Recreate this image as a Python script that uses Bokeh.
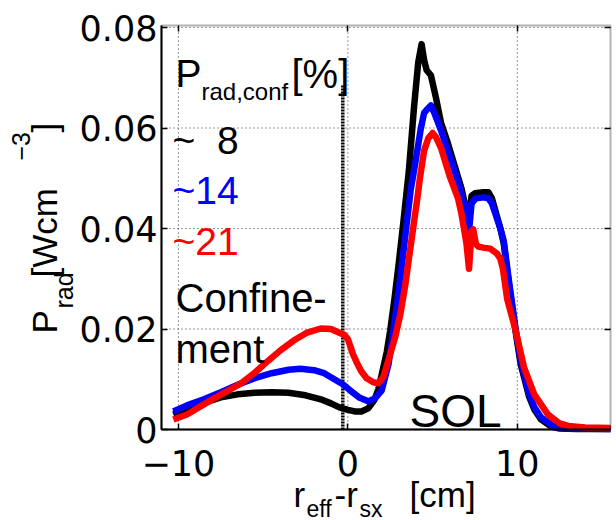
import numpy as np
from bokeh.plotting import figure
from bokeh.models import (Label, Range1d, FixedTicker, CustomJSTickFormatter, BoxAnnotation,
                          LinearAxis)
from bokeh.embed import file_html
from bokeh.resources import INLINE

# ---------------- data ----------------
x_black = [-10.3, -9.5, -8.5, -7.5, -6.5, -5.5, -4.5, -3.5, -2.5, -1.6, -1.0, -0.5, 0.0, 0.4, 0.8,
           1.2, 1.55, 1.8, 2.05, 2.3, 2.5, 2.75, 3.0, 3.3, 3.6, 3.9, 4.15, 4.35, 4.5, 4.65, 4.9,
           5.2, 5.5, 5.9, 6.3, 6.7, 7.0, 7.15, 7.3, 7.5, 8.0, 8.3, 8.5, 8.7, 9.0, 9.2, 9.5, 9.9,
           10.2, 10.7, 11.0, 11.4, 12.0, 12.5, 13.5, 15.5]
y_black = [0.0030, 0.0040, 0.0053, 0.0064, 0.0070, 0.0073, 0.0074, 0.0073, 0.0068, 0.0060, 0.0052,
           0.0044, 0.0039, 0.0036, 0.0036, 0.0042, 0.0058, 0.0080, 0.0117, 0.0155, 0.0197, 0.0260,
           0.0330, 0.0420, 0.0515, 0.0640, 0.0730, 0.0767, 0.0735, 0.0715, 0.0705, 0.0660, 0.0610,
           0.0570, 0.0525, 0.0480, 0.0435, 0.0415, 0.0465, 0.0470, 0.0472, 0.0472, 0.0460, 0.0436,
           0.0400, 0.0370, 0.0290, 0.0195, 0.0130, 0.0065, 0.0040, 0.0020, 0.0006, 0.0002, 0.0001,
           0.0001]

x_blue = [-10.3, -9.5, -8.5, -7.5, -6.5, -5.5, -4.5, -3.5, -2.8, -2.0, -1.4, -0.8, -0.3, 0.2, 0.7,
          1.2, 1.6, 2.0, 2.4, 2.7, 3.0, 3.3, 3.7, 4.0, 4.3, 4.5, 4.7, 4.9, 5.1, 5.5, 5.9, 6.3, 6.7,
          7.0, 7.15, 7.3, 7.55, 8.0, 8.3, 8.5, 8.7, 9.0, 9.2, 9.5, 9.9, 10.2, 10.7, 11.0, 11.4,
          12.2, 13.0, 15.5]
y_blue = [0.0036, 0.0048, 0.0060, 0.0074, 0.0089, 0.0102, 0.0112, 0.0119, 0.0121, 0.0118, 0.0112,
          0.0100, 0.0090, 0.0076, 0.0063, 0.0056, 0.0062, 0.0078, 0.0130, 0.0200, 0.0275, 0.0360,
          0.0475, 0.0535, 0.0598, 0.0630, 0.0638, 0.0645, 0.0630, 0.0595, 0.0555, 0.0515, 0.0470,
          0.0430, 0.0395, 0.0450, 0.0460, 0.0462, 0.0460, 0.0450, 0.0430, 0.0400, 0.0375, 0.0297,
          0.0200, 0.0137, 0.0070, 0.0045, 0.0024, 0.0005, 0.0002, 0.0001]

x_red = [-10.3, -9.5, -8.5, -8.1, -7.2, -6.3, -5.5, -4.7, -4.0, -3.2, -2.4, -1.6, -1.0, -0.6, -0.2,
         0.0, 0.15, 0.3, 0.5, 0.77, 1.1, 1.5, 1.8, 2.1, 2.5, 2.8, 3.1, 3.4, 3.6, 3.85, 4.1, 4.25,
         4.5, 4.75, 5.0, 5.2, 5.5, 6.0, 6.5, 6.7, 7.0, 7.15, 7.3, 7.4, 7.55, 7.7, 8.0, 8.4, 8.8,
         9.0, 9.15, 9.4, 9.9, 10.4, 11.0, 11.8, 12.5, 13.0, 14.0, 15.5]
y_red = [0.0020, 0.0030, 0.0050, 0.0058, 0.0075, 0.0092, 0.0113, 0.0137, 0.0157, 0.0177, 0.0193,
         0.0201, 0.0200, 0.0194, 0.0188, 0.0180, 0.0165, 0.0150, 0.0135, 0.0117, 0.0102, 0.0094,
         0.0092, 0.0105, 0.0150, 0.0185, 0.0230, 0.0290, 0.0340, 0.0400, 0.0460, 0.0500, 0.0555,
         0.0580, 0.0590, 0.0582, 0.0560, 0.0505, 0.0460, 0.0430, 0.0370, 0.0320, 0.0395, 0.0398,
         0.0370, 0.0364, 0.0362, 0.0360, 0.0350, 0.0340, 0.0320, 0.0260, 0.0197, 0.0123, 0.0070,
         0.0030, 0.0012, 0.0007, 0.0004, 0.0003]

series_colors = ["#000000", "#0000ff", "#ff0000"]
series_labels = ["~\u00a0\u00a08", "~14", "~21"]

x_ticks = [-10, 0, 10]
y_ticks = [0, 0.02, 0.04, 0.06, 0.08]

separatrix_x = -0.3
separatrix_top = 0.0685

# ---------------- layout ----------------
W, H = 616, 520
FL, FR, FT, FB = 161, 610, 25, 429      # pixel box of the axes
X0, X1 = -11.0, 15.5                    # axes limits
Y0, Y1 = 0.0, 0.0804


def dx(px):
    return X0 + (px - FL) * (X1 - X0) / (FR - FL)


def dy(py):
    return Y0 + (FB - py) * (Y1 - Y0) / (FB - FT)


# the drawing frame covers the whole canvas; the axes sit at fixed locations
p = figure(width=W, height=H, x_range=Range1d(dx(0), dx(W)), y_range=Range1d(dy(H), dy(0)),
           output_backend="svg", toolbar_location=None, min_border=0,
           min_border_left=0, min_border_right=0, min_border_top=0, min_border_bottom=0)
p.background_fill_color = "white"
p.border_fill_color = "white"
p.outline_line_color = None
p.xgrid.visible = False
p.ygrid.visible = False

xa, ya = p.xaxis[0], p.yaxis[0]
xa.fixed_location = Y0
ya.fixed_location = X0
xa.bounds = (X0, X1)
ya.bounds = (Y0, Y1)
xa.ticker = FixedTicker(ticks=x_ticks)
ya.ticker = FixedTicker(ticks=y_ticks)
xa.formatter = CustomJSTickFormatter(
    code="return tick < 0 ? '\\u2212' + (-tick) : '' + tick;")
ya.formatter = CustomJSTickFormatter(
    code="return tick == 0 ? '0' : tick.toFixed(2);")
for ax in (xa, ya):
    ax.axis_line_width = 2
    ax.axis_line_color = "black"
    ax.major_tick_in = 6
    ax.major_tick_out = 0
    ax.major_tick_line_width = 1.5
    ax.minor_tick_line_color = None
    ax.major_label_text_font = "DejaVu Sans"
    ax.major_label_text_font_size = "35px"
    ax.major_label_text_color = "black"
    ax.axis_label = None
xa.major_label_standoff = 20
ya.major_label_standoff = 4

# inward ticks on the top and right edges of the box (no labels)
xa_top = LinearAxis(fixed_location=Y1, bounds=(X0, X1), ticker=FixedTicker(ticks=x_ticks),
                    formatter=CustomJSTickFormatter(code="return '';"),
                    axis_line_color=None, major_tick_in=6, major_tick_out=0,
                    major_tick_line_width=1.5, minor_tick_line_color=None)
ya_right = LinearAxis(fixed_location=X1, bounds=(Y0, Y1), ticker=FixedTicker(ticks=y_ticks),
                      formatter=CustomJSTickFormatter(code="return '';"),
                      axis_line_color=None, major_tick_in=6, major_tick_out=0,
                      major_tick_line_width=1.5, minor_tick_line_color=None)
p.add_layout(xa_top, "above")
p.add_layout(ya_right, "right")

# dotted grid at the inner ticks
gx = [t for t in x_ticks]
gy = [t for t in y_ticks if Y0 < t < Y1 - 1e-9]
grid_style = dict(line_color="#333333", line_dash="1 3", line_width=1)
p.segment(x0=gx, y0=[Y0] * len(gx), x1=gx, y1=[Y1] * len(gx), **grid_style)
p.segment(x0=[X0] * len(gy), y0=gy, x1=[X1] * len(gy), y1=gy, **grid_style)

# separatrix marker
p.line([separatrix_x, separatrix_x], [0, separatrix_top], line_color="black",
       line_width=3.5, line_dash="2 1")

# curves
for xs, ys, c in [(x_black, y_black, series_colors[0]),
                  (x_blue, y_blue, series_colors[1]),
                  (x_red, y_red, series_colors[2])]:
    p.line(xs, ys, line_color=c, line_width=6.5, line_join="round", line_cap="butt")

# axes box
p.add_layout(BoxAnnotation(left=X0, right=X1, bottom=Y0, top=Y1, fill_color=None,
                           fill_alpha=0, line_color="black", line_width=2))

FONT = "Liberation Sans"


def lab(px, py, text, size, color="black", angle=0.0):
    # px, py: pixel position of the text origin (baseline start)
    p.add_layout(Label(x=dx(px), y=dy(py), text=text, text_font=FONT,
                       text_font_size=f"{size}px", text_color=color,
                       text_baseline="alphabetic", text_align="left", angle=angle))


# legend title
lab(175, 73, "P", 39)
lab(201, 91, "rad,conf", 24)
lab(291, 73, "[%]", 40)
# legend entries
for (py, t, c) in [(140, series_labels[0], series_colors[0]),
                   (190, series_labels[1], series_colors[1]),
                   (241, series_labels[2], series_colors[2])]:
    lab(172, py, t, 39, c)

lab(175, 297, "Confine-", 40)
lab(175, 348, "ment", 40)
lab(409, 410, "SOL", 46)

# x-axis label
lab(293, 494, "r", 35)
lab(306, 508, "eff", 23)
lab(334, 494, "-r", 35)
lab(359, 508, "sx", 23)
lab(409, 494, "[cm]", 35)

# y-axis label (rotated)
A = np.pi / 2
lab(44, 333, "P", 35, angle=A)
lab(63, 308, "rad", 25, angle=A)
lab(44, 277, "[Wcm", 35, angle=A)
lab(20, 160, "\u22123", 25, angle=A)
lab(44, 132, "]", 35, angle=A)

open("out.html", "w").write(file_html(p, INLINE))
